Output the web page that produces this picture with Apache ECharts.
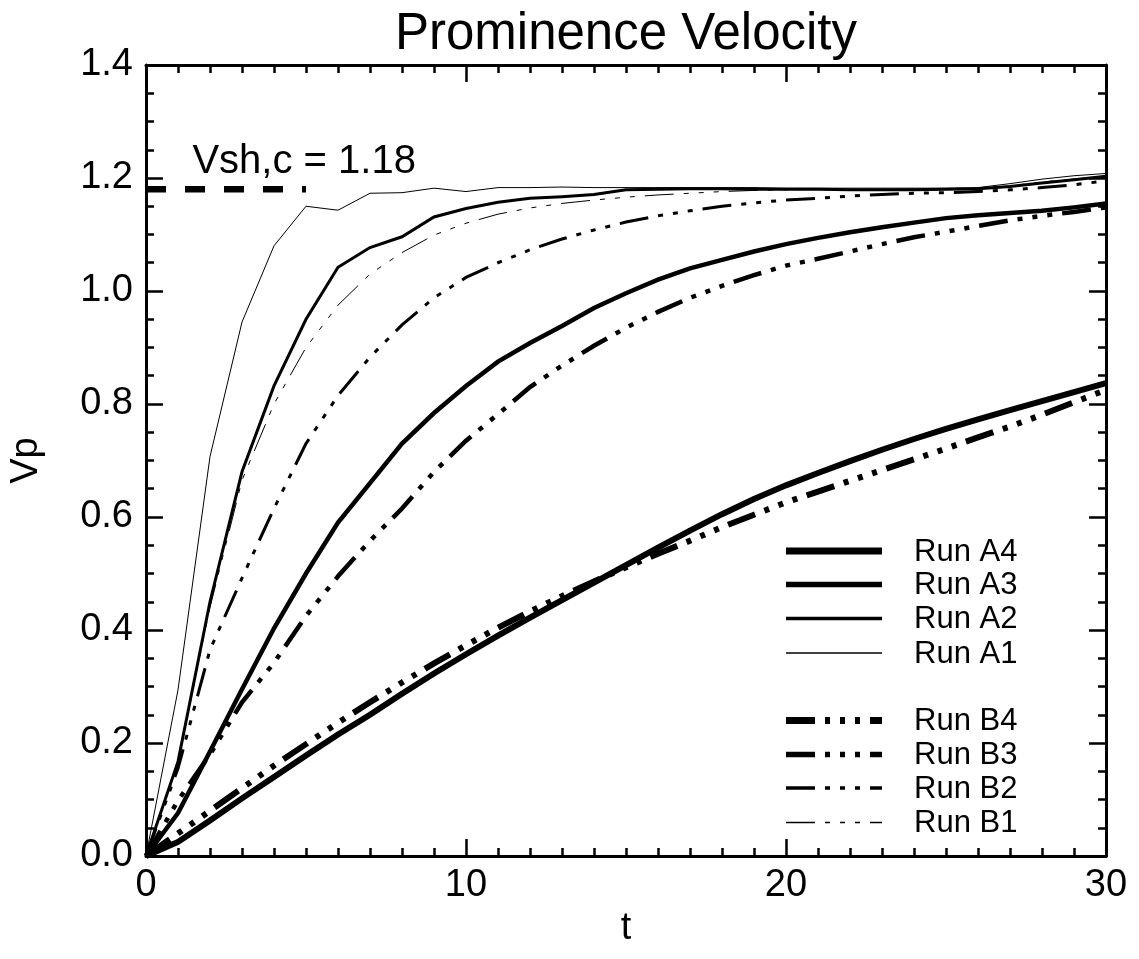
<!DOCTYPE html>
<html>
<head>
<meta charset="utf-8">
<script src="https://cdn.jsdelivr.net/npm/echarts@6/dist/echarts.min.js"></script>
<style>html,body{margin:0;padding:0;background:#fff}#c{width:1139px;height:959px}</style>
</head>
<body>
<div id="c"></div>
<script>
// ---- data ----
const T = [0,1,2,3,4,5,6,7,8,9,10,11,12,13,14,15,16,17,18,19,20,21,22,23,24,25,26,27,28,29,30];
const runA1 = [0,0.294,0.707,0.945,1.08,1.15,1.143,1.173,1.174,1.182,1.176,1.183,1.183,1.184,1.183,1.183,1.183,1.183,1.183,1.183,1.182,1.182,1.182,1.182,1.182,1.182,1.183,1.19,1.198,1.204,1.208];
const runA2 = [0,0.167,0.45,0.68,0.832,0.95,1.042,1.077,1.096,1.131,1.146,1.157,1.164,1.167,1.171,1.179,1.18,1.181,1.181,1.18,1.18,1.18,1.179,1.179,1.179,1.18,1.181,1.185,1.191,1.197,1.203];
const runA3 = [0,0.076,0.185,0.295,0.403,0.5,0.59,0.66,0.73,0.784,0.832,0.875,0.908,0.938,0.97,0.996,1.02,1.04,1.055,1.07,1.083,1.094,1.104,1.113,1.121,1.129,1.134,1.138,1.142,1.148,1.155];
const runA4 = [0,0.025,0.063,0.102,0.14,0.178,0.215,0.25,0.287,0.323,0.357,0.39,0.422,0.453,0.484,0.515,0.546,0.576,0.605,0.632,0.656,0.678,0.699,0.719,0.738,0.756,0.773,0.789,0.805,0.821,0.837];
const runB1 = [0,0.17,0.44,0.665,0.8,0.9,0.975,1.03,1.068,1.099,1.12,1.136,1.147,1.155,1.161,1.166,1.17,1.173,1.176,1.178,1.179,1.18,1.18,1.18,1.18,1.18,1.181,1.186,1.193,1.198,1.203];
const runB2 = [0,0.155,0.365,0.492,0.615,0.73,0.815,0.883,0.94,0.988,1.024,1.05,1.073,1.092,1.108,1.122,1.133,1.142,1.15,1.156,1.161,1.164,1.168,1.171,1.173,1.174,1.176,1.179,1.183,1.188,1.195];
const runB3 = [0,0.098,0.18,0.272,0.342,0.425,0.495,0.558,0.615,0.68,0.735,0.782,0.83,0.868,0.903,0.935,0.963,0.988,1.009,1.028,1.045,1.057,1.07,1.083,1.095,1.105,1.115,1.125,1.133,1.14,1.148];
const runB4 = [0,0.04,0.08,0.12,0.16,0.198,0.236,0.272,0.307,0.341,0.373,0.404,0.433,0.46,0.486,0.511,0.535,0.558,0.582,0.604,0.626,0.645,0.664,0.683,0.702,0.721,0.741,0.76,0.781,0.803,0.825];
const vshT = [0,5];
const vshValue = 1.18;
const xTicks = [0,10,20,30];
const yTicks = [0,0.2,0.4,0.6,0.8,1.0,1.2,1.4];
const legendA = ['Run A4','Run A3','Run A2','Run A1'];
const legendB = ['Run B4','Run B3','Run B2','Run B1'];

const FONT = 'Liberation Sans';
const dashB = [29,10,5,10,5,10,5,10];
const pairs = arr => T.map((t,i)=>[t,arr[i]]);

function lineSeries(name, arr, width, type){
  return {
    name, type:'line', data: pairs(arr), symbol:'none', showSymbol:false,
    xAxisIndex:0, yAxisIndex:0, silent:true, animation:false,
    lineStyle:{color:'#000', width, type: type || 'solid', cap:'butt', join:'miter'},
    itemStyle:{color:'#000'},
    emphasis:{disabled:true}
  };
}

const axisCommon = {
  axisLine:{show:true, onZero:false, lineStyle:{color:'#000', width:3}},
  axisTick:{show:true, inside:true, length:17, lineStyle:{color:'#000', width:2.5}},
  minorTick:{show:true, length:8, lineStyle:{color:'#000', width:2.5}},
  splitLine:{show:false}
};

// legend drawn as graphic (line samples + labels)
const legendStyle = {
  'Run A4':{w:7, dash:null}, 'Run A3':{w:5.5, dash:null}, 'Run A2':{w:3.5, dash:null}, 'Run A1':{w:1.3, dash:null},
  'Run B4':{w:7, dash:dashB}, 'Run B3':{w:5.5, dash:dashB}, 'Run B2':{w:3.5, dash:dashB}, 'Run B1':{w:1.3, dash:dashB}
};
const legendRowsY = [551, 584.5, 618.5, 653, 720.5, 754.5, 788, 822.5];
const legendNames = legendA.concat(legendB);
const graphics = [];
legendNames.forEach((nm, i) => {
  const y = legendRowsY[i];
  const st = legendStyle[nm];
  graphics.push({type:'line', silent:true, shape:{x1:786, y1:y, x2:882, y2:y},
    style:{stroke:'#000', lineWidth:st.w, lineDash:st.dash, lineCap:'butt'}});
  graphics.push({type:'text', silent:true, x:914, y:y + 1,
    style:{text:nm, font:'31px "Liberation Sans"', fill:'#000', verticalAlign:'middle', align:'left'}});
});

const chart = echarts.init(document.getElementById('c'), null, {renderer:'canvas'});
chart.setOption({
  animation:false,
  backgroundColor:'#fff',
  textStyle:{fontFamily:FONT},
  title:{
    text:'Prominence Velocity', left:621, top:4, textAlign:'center',
    textStyle:{fontFamily:FONT, fontSize:51, fontWeight:'normal', color:'#000'}
  },
  grid:{left:143, right:33, top:65, bottom:103, containLabel:false},
  xAxis:[
    Object.assign({}, axisCommon, {
      type:'value', min:0, max:30, interval:10, position:'bottom',
      minorTick:Object.assign({}, axisCommon.minorTick, {splitNumber:10}),
      name:'t', nameLocation:'middle', nameGap:46,
      nameTextStyle:{fontFamily:FONT, fontSize:38, color:'#000'},
      axisLabel:{show:true, margin:11, fontFamily:FONT, fontSize:38, color:'#000',
        formatter:v => xTicks.indexOf(v)>=0 ? String(v) : ''}
    }),
    Object.assign({}, axisCommon, {
      type:'value', min:0, max:30, interval:10, position:'top',
      minorTick:Object.assign({}, axisCommon.minorTick, {splitNumber:10}),
      axisLabel:{show:false}
    })
  ],
  yAxis:[
    Object.assign({}, axisCommon, {
      type:'value', min:0, max:1.4, interval:0.2, position:'left',
      minorTick:Object.assign({}, axisCommon.minorTick, {splitNumber:4}),
      name:'Vp', nameLocation:'middle', nameGap:100, nameRotate:90,
      nameTextStyle:{fontFamily:FONT, fontSize:38, color:'#000'},
      axisLabel:{show:true, margin:13, fontFamily:FONT, fontSize:38, color:'#000',
        formatter:v => { const k = yTicks.findIndex(y=>Math.abs(y-v)<1e-6); return k>=0 ? yTicks[k].toFixed(1) : ''; }}
    }),
    Object.assign({}, axisCommon, {
      type:'value', min:0, max:1.4, interval:0.2, position:'right',
      minorTick:Object.assign({}, axisCommon.minorTick, {splitNumber:4}),
      axisLabel:{show:false}
    })
  ],
  graphic: graphics,
  series:[
    lineSeries('Run A4', runA4, 6),
    lineSeries('Run A3', runA3, 4.5),
    lineSeries('Run A2', runA2, 3),
    lineSeries('Run A1', runA1, 1),
    lineSeries('Run B4', runB4, 6, dashB),
    lineSeries('Run B3', runB3, 4.5, dashB),
    lineSeries('Run B2', runB2, 3, dashB),
    lineSeries('Run B1', runB1, 1, dashB),
    {
      name:'Vsh', type:'line', data: vshT.map(t=>[t, vshValue]), symbol:'none', silent:true,
      lineStyle:{color:'#000', width:6.5, type:[20,19], cap:'butt'},
      emphasis:{disabled:true},
      markPoint:{
        symbol:'rect', symbolSize:0, silent:true, animation:false,
        data:[{coord:[1.45, 1.229], value:vshValue}],
        label:{show:true, position:'right', distance:0, fontFamily:FONT, fontSize:40, color:'#000',
          formatter:p => 'Vsh,c = ' + vshValue.toFixed(2)}
      }
    }
  ]
});
</script>
</body>
</html>
